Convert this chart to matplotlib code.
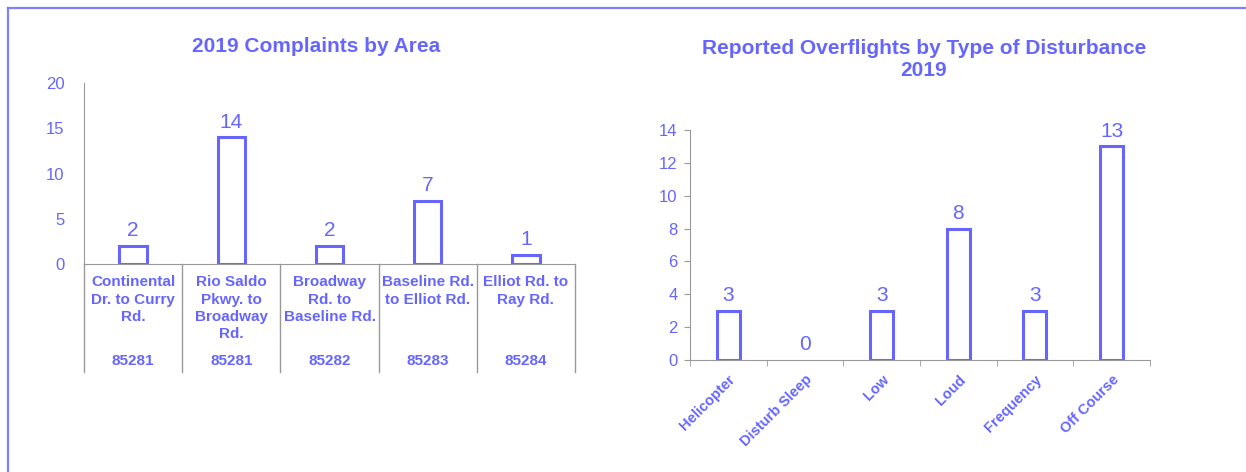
import matplotlib.pyplot as plt
from matplotlib.lines import Line2D
import numpy as np

plt.rcParams['font.family'] = ['Liberation Sans', 'DejaVu Sans']

# --- data ---
area_labels = ['Continental\nDr. to Curry\nRd.', 'Rio Saldo\nPkwy. to\nBroadway\nRd.',
               'Broadway\nRd. to\nBaseline Rd.', 'Baseline Rd.\nto Elliot Rd.',
               'Elliot Rd. to\nRay Rd.']
area_zips = ['85281', '85281', '85282', '85283', '85284']
area_counts = [2, 14, 2, 7, 1]

types = ['Helicopter', 'Disturb Sleep', 'Low', 'Loud', 'Frequency', 'Off Course']
type_counts = [3, 0, 3, 8, 3, 13]

# --- style ---
BLUE = '#6666FF'
GRAY = '#999999'
W, H = 1246, 472

fig = plt.figure(figsize=(W / 100, H / 100), dpi=100)

# outer frame (only left and top visible)
fig.add_artist(Line2D([7.5 / W, 7.5 / W], [0, 1 - 8 / H], color='#8080FF', lw=1.6))
fig.add_artist(Line2D([7.5 / W, 1], [1 - 8 / H, 1 - 8 / H], color='#8080FF', lw=1.6))


def px_axes(x0, x1, ytop, ybot):
    return fig.add_axes([x0 / W, 1 - ybot / H, (x1 - x0) / W, (ybot - ytop) / H])


def draw_bars(ax, vals, width):
    x = np.arange(len(vals))
    bars = ax.bar(x, vals, width=width, color='white', edgecolor=BLUE, linewidth=2.2)
    for b, v in zip(bars, vals):
        if v == 0:
            b.set_edgecolor('none')
        ax.annotate(str(v), (b.get_x() + b.get_width() / 2, v), xytext=(0, 4),
                    textcoords='offset points', ha='center', va='bottom',
                    fontsize=15, color=BLUE)
    ax.set_xlim(-0.5, len(vals) - 0.5)
    for s in ['top', 'right']:
        ax.spines[s].set_visible(False)
    ax.spines['left'].set_color(GRAY)
    ax.spines['bottom'].set_color(GRAY)
    return x


# ---------------- left chart ----------------
ax1 = px_axes(84, 575, 83, 264)
draw_bars(ax1, area_counts, 0.28)
ax1.set_ylim(0, 20)
ax1.set_yticks([0, 5, 10, 15, 20])
ax1.tick_params(axis='y', length=0, pad=14, labelsize=12, labelcolor=BLUE)
ax1.set_xticks([])

# category table below the axis
trans = ax1.get_xaxis_transform()
y_tab = -0.597
for xb in np.arange(-0.5, len(area_counts), 1.0):
    ax1.add_line(Line2D([xb, xb], [0, y_tab], transform=trans, color=GRAY,
                        lw=1, clip_on=False))
for i, (lab, z) in enumerate(zip(area_labels, area_zips)):
    ax1.text(i, -0.062, lab, transform=trans, ha='center', va='top',
             fontsize=11, fontweight='bold', color=BLUE, linespacing=1.3)
    ax1.text(i, -0.536, z, transform=trans, ha='center', va='center',
             fontsize=11, fontweight='bold', color=BLUE)

fig.text(316.5 / W, 1 - 46 / H, '2019 Complaints by Area', ha='center', va='center',
         fontsize=15, fontweight='bold', color=BLUE)

# ---------------- right chart ----------------
ax2 = px_axes(690, 1150, 130, 360)
x2 = draw_bars(ax2, type_counts, 0.3)
ax2.set_ylim(0, 14)
ax2.set_yticks(range(0, 15, 2))
ax2.set_xticks(x2)
ax2.set_xticklabels(types, rotation=45, ha='right', va='top', rotation_mode='anchor',
                    fontsize=10.5, fontweight='bold', color=BLUE)
ax2.set_xticks(np.arange(-0.5, len(type_counts), 1.0), minor=True)
ax2.tick_params(axis='x', which='major', length=0, pad=9)
ax2.tick_params(axis='x', which='minor', length=4, color=GRAY, direction='out')
ax2.tick_params(axis='y', length=4, color=GRAY, direction='out', pad=5,
                labelsize=12, labelcolor=BLUE)

fig.text(924 / W, 1 - 60 / H, 'Reported Overflights by Type of Disturbance\n2019',
         ha='center', va='center', fontsize=15, fontweight='bold', color=BLUE,
         linespacing=1.2)

fig.savefig('out.png', dpi=100)
